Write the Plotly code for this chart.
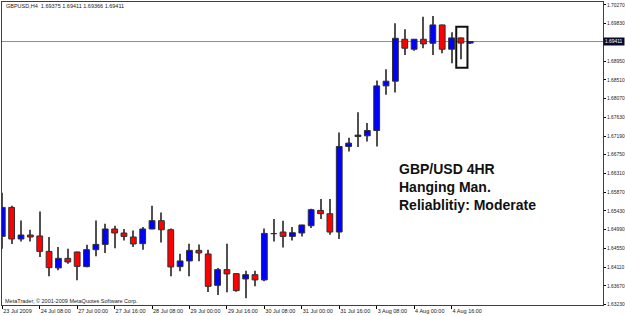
import plotly.graph_objects as go

# ---- data (GBPUSD H4) ----
bar_index = list(range(51))
opens = [1.64832, 1.65513, 1.64771, 1.64865, 1.64842, 1.64480, 1.64091, 1.64316, 1.64466, 1.64121,
         1.64520, 1.64644, 1.65006, 1.64912, 1.64818, 1.64661, 1.65006, 1.65201, 1.64989, 1.64121,
         1.64255, 1.64504, 1.64419, 1.63682, 1.64051, 1.63957, 1.63832, 1.63933, 1.63809, 1.64896,
         1.64935, 1.64832, 1.64912, 1.65083, 1.65443, 1.65365, 1.64935, 1.66944, 1.67179, 1.67196,
         1.67320, 1.68369, 1.68479, 1.69465, 1.69230, 1.69465, 1.69371, 1.69801, 1.69230, 1.69496,
         1.69375]
highs = [1.65858, 1.65553, 1.65208, 1.64989, 1.65419, 1.64818, 1.64583, 1.64544, 1.64470, 1.64637,
         1.65208, 1.65130, 1.65083, 1.65006, 1.64973, 1.65053, 1.65553, 1.65395, 1.65020, 1.64426,
         1.64661, 1.64644, 1.64520, 1.64091, 1.64661, 1.63960, 1.64027, 1.64027, 1.65020, 1.65241,
         1.65201, 1.65053, 1.65105, 1.65482, 1.65710, 1.65710, 1.67273, 1.67149, 1.67752, 1.67494,
         1.68493, 1.68761, 1.69841, 1.69700, 1.69470, 1.69995, 1.70012, 1.69805, 1.69629, 1.69500,
         1.69411]
lows = [1.64544, 1.64654, 1.64715, 1.64715, 1.64349, 1.63894, 1.64034, 1.64192, 1.63800, 1.64110,
        1.64363, 1.64443, 1.64551, 1.64738, 1.64583, 1.64520, 1.65000, 1.64691, 1.63894, 1.64011,
        1.63894, 1.64246, 1.63527, 1.63457, 1.63518, 1.63534, 1.63377, 1.63659, 1.63776, 1.64715,
        1.64574, 1.64738, 1.64832, 1.65029, 1.65241, 1.64872, 1.64771, 1.66827, 1.66930, 1.67062,
        1.66944, 1.68158, 1.68212, 1.69097, 1.69197, 1.69254, 1.69097, 1.69136, 1.68902, 1.68996,
        1.69366]
closes = [1.65513, 1.64771, 1.64865, 1.64818, 1.64480, 1.64098, 1.64316, 1.64231, 1.64128, 1.64520,
          1.64644, 1.65006, 1.64912, 1.64832, 1.64654, 1.65006, 1.65201, 1.64989, 1.64114, 1.64255,
          1.64504, 1.64443, 1.63659, 1.64051, 1.63950, 1.63558, 1.63933, 1.63809, 1.64903, 1.64896,
          1.64832, 1.64919, 1.65100, 1.65459, 1.65365, 1.64935, 1.66944, 1.67024, 1.67212, 1.67320,
          1.68369, 1.68479, 1.69488, 1.69254, 1.69465, 1.69355, 1.69801, 1.69230, 1.69496, 1.69375,
          1.69411]

time_tick_index = [0, 4, 8, 12, 16, 20, 24, 28, 32, 36, 40, 44, 48]
time_tick_labels = ["23 Jul 2009", "24 Jul 08:00", "27 Jul 00:00", "27 Jul 16:00", "28 Jul 08:00",
                    "29 Jul 00:00", "29 Jul 16:00", "30 Jul 08:00", "31 Jul 00:00", "31 Jul 16:00",
                    "3 Aug 08:00", "4 Aug 00:00", "4 Aug 16:00"]
price_ticks = [1.63230, 1.63670, 1.64110, 1.64550, 1.64990, 1.65430, 1.65870, 1.66310, 1.66750,
               1.67190, 1.67630, 1.68070, 1.68510, 1.68950, 1.69830, 1.70270]
price_tick_labels = ["%.5f" % p for p in price_ticks]

symbol = "GBPUSD,H4"
pattern_index = 49
annotation_lines = ["GBP/USD 4HR", "Hanging Man.", "Reliablitiy: Moderate"]

# ---- styling ----
BULL = "#0000ff"
BEAR = "#ff0000"
OUTLINE = "#303030"
WICK = "#505050"
small_font = dict(family="Liberation Sans", size=5.5, color="#202020")
axis_font = dict(family="Liberation Sans", size=4.9, color="#202020")

body_base = [min(o, c) for o, c in zip(opens, closes)]
body_h = [max(abs(c - o), 0.00002) for o, c in zip(opens, closes)]
body_col = [BULL if c >= o else BEAR for o, c in zip(opens, closes)]
wick_h = [h - l for h, l in zip(highs, lows)]

fig = go.Figure()
fig.add_trace(go.Bar(x=bar_index, y=wick_h, base=lows, width=0.11,
                     marker=dict(color=WICK, line=dict(width=0)), hoverinfo="skip"))
fig.add_trace(go.Bar(x=bar_index, y=body_h, base=body_base, width=0.62,
                     marker=dict(color=body_col, line=dict(color=OUTLINE, width=1)),
                     hoverinfo="skip"))

last_close = closes[-1]
fig.add_shape(type="line", xref="paper", x0=0, x1=1, yref="y", y0=last_close, y1=last_close,
              line=dict(color="#909090", width=1), layer="below")

# box around the hanging man candle
fig.add_shape(type="rect", xref="x", yref="y",
              x0=bar_index[pattern_index] - 0.5, x1=bar_index[pattern_index] + 0.7,
              y0=lows[pattern_index] - 0.0020, y1=highs[pattern_index] + 0.0026,
              line=dict(color="#101010", width=2))

header = "%s  %.5f %.5f %.5f %.5f" % (symbol, opens[-1], highs[-1], lows[-1], closes[-1])
fig.add_annotation(text=header, xref="paper", yref="paper", x=0.003, y=0.988,
                   xanchor="left", yanchor="middle", showarrow=False, font=small_font)
fig.add_annotation(text="MetaTrader, \u00a9 2001-2009 MetaQuotes Software Corp.",
                   xref="paper", yref="paper", x=0.002, y=0.012,
                   xanchor="left", yanchor="middle", showarrow=False, font=small_font)
fig.add_annotation(text="%.5f" % last_close, xref="paper", yref="y", x=1, y=last_close,
                   xanchor="left", yanchor="middle", xshift=0, showarrow=False,
                   bgcolor="#0a0a28", borderpad=1,
                   font=dict(family="Liberation Sans", size=4.9, color="#ffffff"))
fig.add_annotation(text="<br>".join("<b>%s</b>" % s for s in annotation_lines),
                   xref="paper", yref="paper", x=0.657, y=0.389,
                   xanchor="left", yanchor="middle", align="left", showarrow=False,
                   font=dict(family="Liberation Sans", size=14, color="#111111"))

fig.update_layout(
    width=625, height=316,
    margin=dict(l=2, r=22, t=2, b=11, autoexpand=False),
    paper_bgcolor="white", plot_bgcolor="white",
    showlegend=False, barmode="overlay",
    xaxis=dict(range=[-0.03, 64.18], tickmode="array", tickvals=time_tick_index,
               ticktext=time_tick_labels, ticks="outside", ticklen=3, tickcolor="#000",
               tickfont=small_font, ticklabelposition="outside right", tickangle=0,
               automargin=False,
               showgrid=False, zeroline=False, showline=True, linecolor="#404040",
               linewidth=1, mirror=True, fixedrange=True),
    yaxis=dict(range=[1.63220, 1.70340], side="right", tickmode="array",
               tickvals=price_ticks, ticktext=price_tick_labels, ticks="outside",
               ticklen=2, tickcolor="#000", tickfont=axis_font, automargin=False,
               showgrid=False, zeroline=False, showline=True, linecolor="#404040",
               linewidth=1, mirror=True, fixedrange=True),
)

fig.write_html("out.html")
